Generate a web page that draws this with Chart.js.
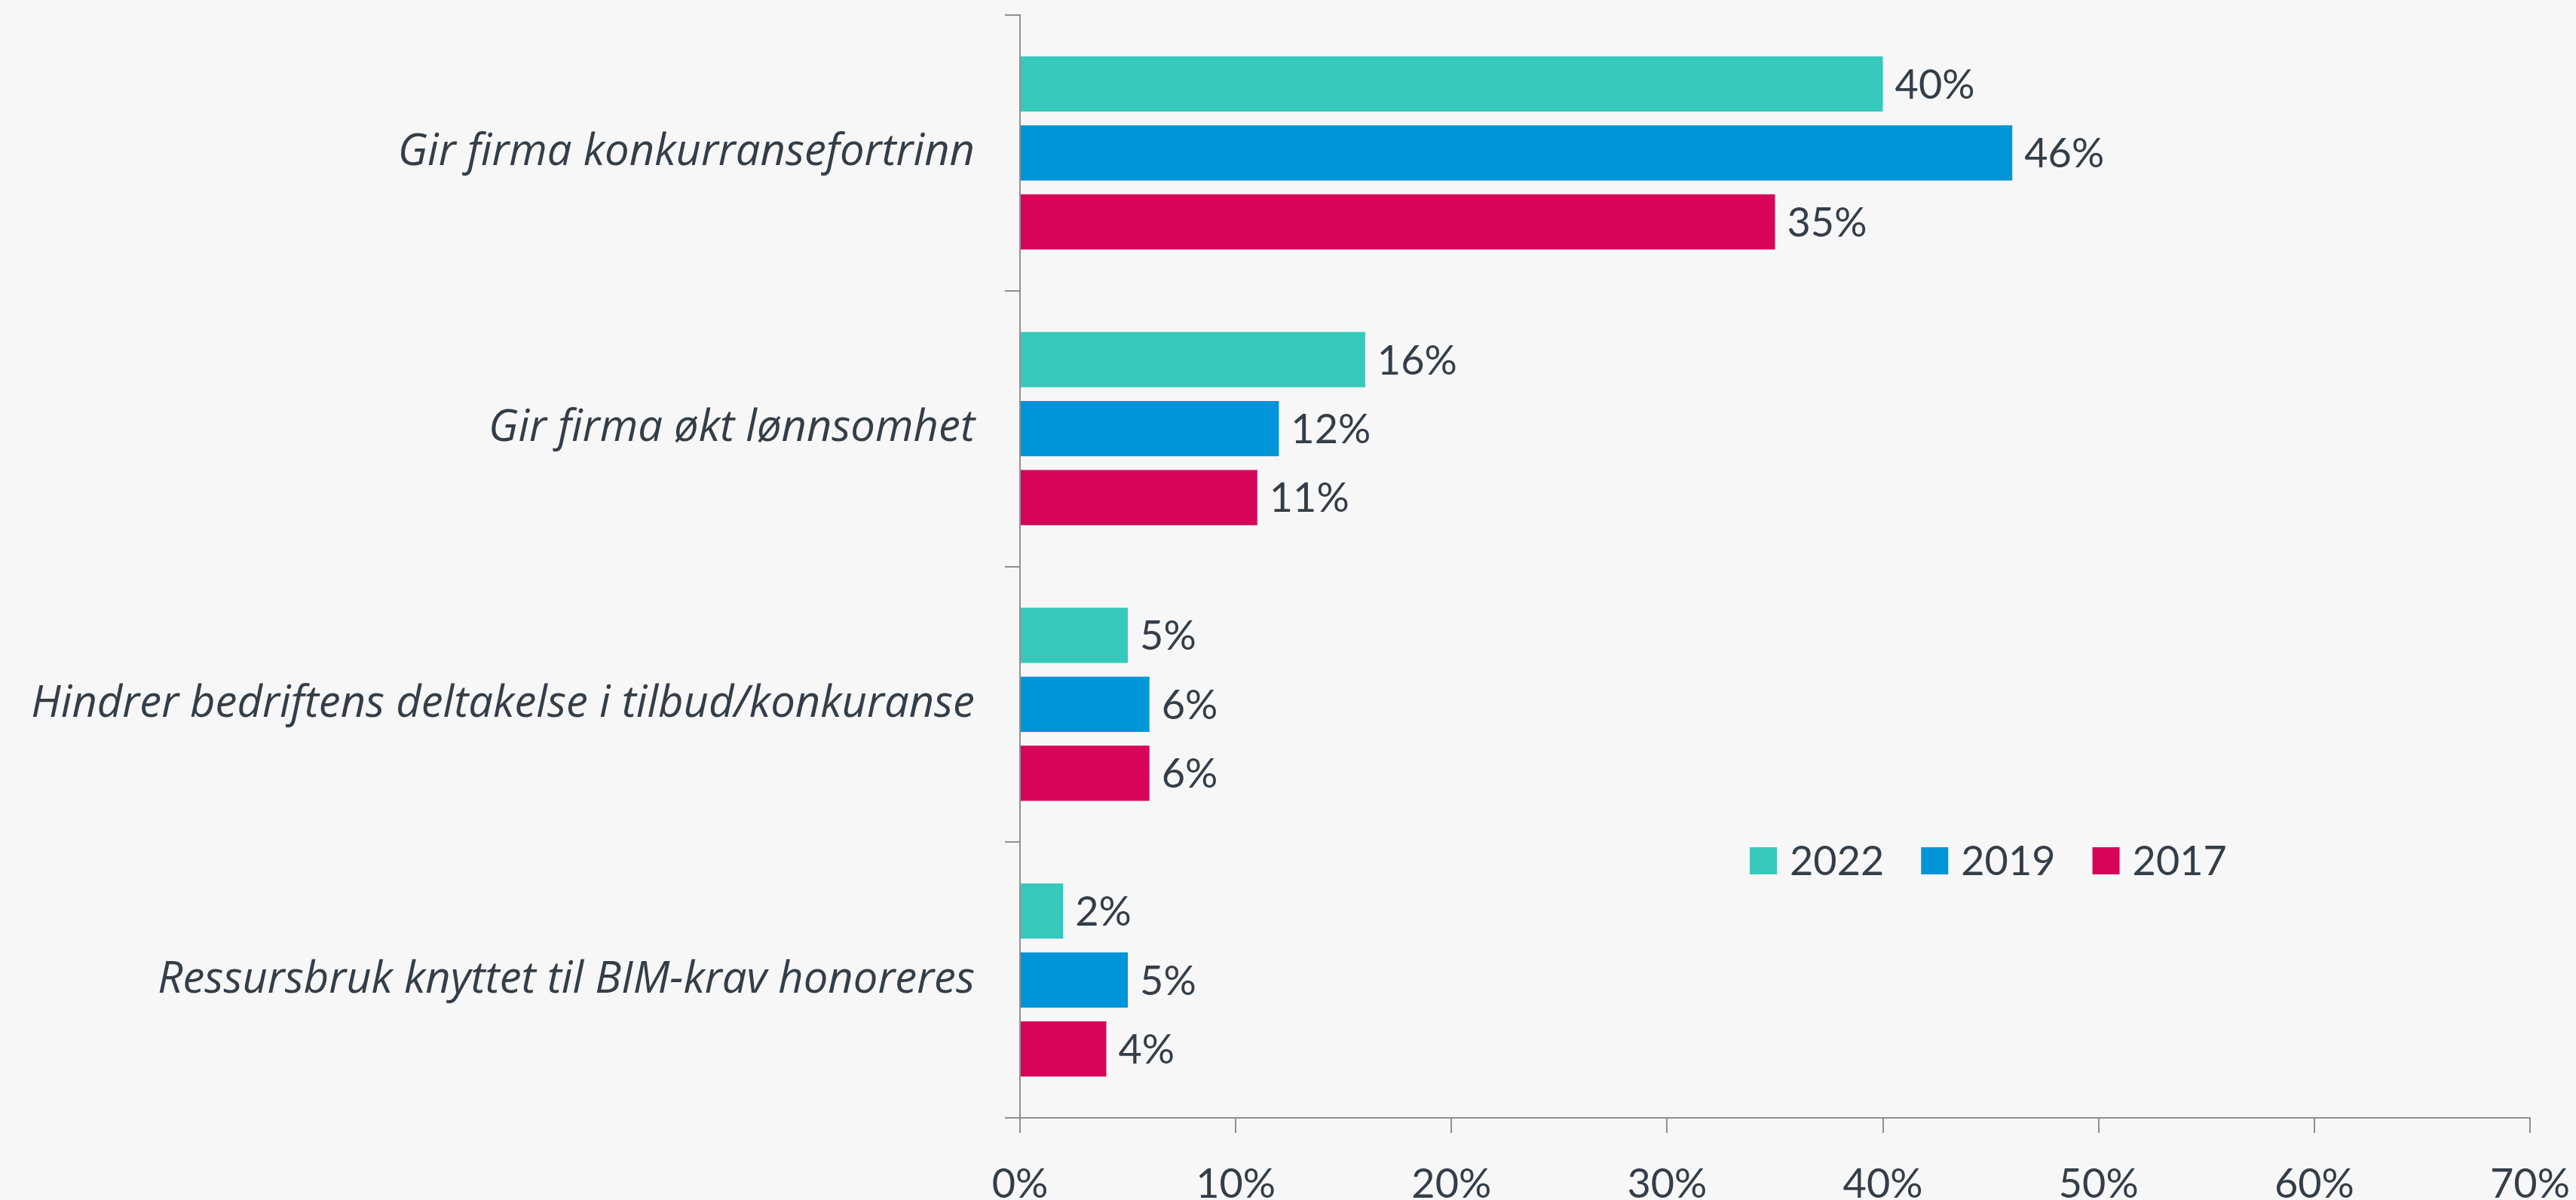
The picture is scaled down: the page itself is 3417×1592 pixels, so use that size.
<!DOCTYPE html>
<html>
<head>
<meta charset="utf-8">
<script src="https://cdn.jsdelivr.net/npm/chart.js@4"></script>
<style>
  html, body { margin: 0; padding: 0; background: #f7f7f7; }
  #wrap { width: 3417px; height: 1592px; }
</style>
</head>
<body>
<div id="wrap"><canvas id="bimChart" width="3417" height="1592"></canvas></div>
<script>
const categories = [
  "Gir firma konkurransefortrinn",
  "Gir firma økt lønnsomhet",
  "Hindrer bedriftens deltakelse i tilbud/konkuranse",
  "Ressursbruk knyttet til BIM-krav honoreres",
];
const seriesNames = ["2022", "2019", "2017"];
const values2022 = [40, 16, 5, 2];
const values2019 = [46, 12, 6, 5];
const values2017 = [35, 11, 6, 4];
const xTicks = [0, 10, 20, 30, 40, 50, 60, 70];

const colors = ["#37c8bc", "#0094d8", "#d7055a"];
const textColor = "#343e48";
const axisColor = "#8f8f94";
const fontFamily = "Lato, 'Open Sans', sans-serif";
const labelFamily = "'Open Sans', Lato, sans-serif";
const fontSize = 54;
const labelSize = 58;

// etiketter på enden av hver stolpe
const valueLabels = {
  id: "valueLabels",
  afterDatasetsDraw(chart) {
    const c = chart.ctx;
    c.save();
    c.font = `${fontSize}px ${fontFamily}`;
    c.fillStyle = textColor;
    c.textAlign = "left";
    c.textBaseline = "middle";
    chart.data.datasets.forEach((ds, i) => {
      chart.getDatasetMeta(i).data.forEach((bar, j) => {
        c.fillText(ds.data[j] + "%", bar.x + 16, bar.y + 2);
      });
    });
    c.restore();
  },
};

// forklaring inne i plottet
const insideLegend = {
  id: "insideLegend",
  afterDraw(chart) {
    const c = chart.ctx;
    c.save();
    c.font = `${fontSize}px ${fontFamily}`;
    c.textBaseline = "middle";
    let x = 2321;
    const y = 1142;
    chart.data.datasets.forEach((ds) => {
      c.fillStyle = ds.backgroundColor;
      c.fillRect(x, y - 18, 36, 36);
      c.fillStyle = textColor;
      c.fillText(ds.label, x + 53, y + 2);
      x += 53 + c.measureText(ds.label).width + 49;
    });
    c.restore();
  },
};

function createChart() {
  const ctx = document.getElementById("bimChart").getContext("2d");
  return new Chart(ctx, {
    type: "bar",
    data: {
      labels: categories,
      datasets: [
        { label: seriesNames[0], data: values2022, backgroundColor: colors[0] },
        { label: seriesNames[1], data: values2019, backgroundColor: colors[1] },
        { label: seriesNames[2], data: values2017, backgroundColor: colors[2] },
      ],
    },
    options: {
      indexAxis: "y",
      responsive: false,
      animation: false,
      devicePixelRatio: 1,
      categoryPercentage: 0.75,
      barPercentage: 0.8,
      layout: { padding: { top: 20, right: 61, left: 0, bottom: 0 } },
      plugins: {
        legend: { display: false },
        tooltip: { enabled: false },
      },
      scales: {
        x: {
          min: 0,
          max: 70,
          afterBuildTicks(scale) {
            scale.ticks = xTicks.map((v) => ({ value: v }));
          },
          afterFit(scale) {
            scale.height = 109;
            scale.paddingLeft = 0;
            scale.paddingRight = 0;
          },
          border: { color: axisColor, width: 2 },
          grid: { drawOnChartArea: false, tickLength: 20, color: axisColor, lineWidth: 2 },
          ticks: {
            color: textColor,
            padding: 36,
            font: { family: fontFamily, size: fontSize },
            callback: (v) => v + "%",
          },
        },
        y: {
          afterFit(scale) {
            scale.width = 1353;
            scale.paddingTop = 0;
            scale.paddingBottom = 0;
          },
          border: { color: axisColor, width: 2 },
          grid: { offset: true, drawOnChartArea: false, tickLength: 20, color: axisColor, lineWidth: 2 },
          ticks: {
            color: textColor,
            padding: 40,
            font: { family: labelFamily, size: labelSize, style: "italic" },
          },
        },
      },
    },
    plugins: [valueLabels, insideLegend],
  });
}

document.fonts.load(`${fontSize}px Lato`)
  .then(() => document.fonts.load(`italic ${labelSize}px 'Open Sans'`))
  .finally(createChart);
</script>
</body>
</html>
